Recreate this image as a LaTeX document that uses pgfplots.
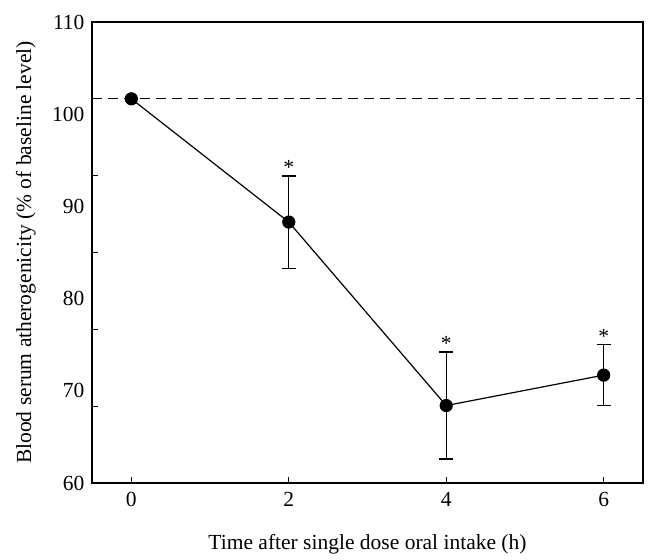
\documentclass[border=0pt]{standalone}
\usepackage{pgfplots}
\pgfplotsset{compat=1.18}
\usepackage{fontspec}
\setmainfont{Liberation Serif}

\begin{document}
\begin{tikzpicture}[font=\fontsize{21.5}{25}\selectfont]
\pgfplotsset{
  base/.style={
    scale only axis,
    width=551pt, height=461pt,
    xmin=-0.5, xmax=6.5,
    ymin=60, ymax=110,
  },
}
% main axis: the frame, the ticks and the data
\begin{axis}[
  base, name=main,
  axis line style={line width=1.2pt},
  xtick={0,2,4,6},
  % the inner y ticks sit off the labels in the original figure
  ytick={68.333,76.667,85,93.333,101.667},
  yticklabels={},
  tick pos=left,
  tick align=inside,
  major tick length=6pt,
  xtick style={draw=black, line width=1.1pt},
  ytick style={draw=black, line width=1.1pt},
  /pgf/number format/assume math mode=true,
  xticklabel style={yshift=-6pt},
  xlabel={Time after single dose oral intake (h)},
  ylabel={Blood serum atherogenicity (\% of baseline level)},
  every axis x label/.style={at={(axis description cs:0.5,0)}, anchor=center, yshift=-61pt},
  every axis y label/.style={at={(axis description cs:0,0.5)}, anchor=center, xshift=-66pt, rotate=90},
  clip=false,
]
% baseline level
\addplot[black, line width=1.1pt, dash pattern=on 10pt off 6pt] coordinates {(-0.5,101.667) (6.5,101.667)};

\addplot[black, line width=1.2pt, mark=*, mark size=6pt,
  error bars/.cd, y dir=both, y explicit,
  error bar style={line width=1.2pt},
  error mark options={rotate=90, mark size=7pt, line width=1.2pt}]
  coordinates {
    (0,101.667)
    (2,88.3) +- (0,5.0)
    (4,68.4) +- (0,5.8)
    (6,71.7) +- (0,3.3)
  };

\node[anchor=south, inner sep=1pt] at (axis cs:2,93.3) {*};
\node[anchor=south, inner sep=1pt] at (axis cs:4,74.2) {*};
\node[anchor=south, inner sep=1pt] at (axis cs:6,75.0) {*};

% x tick marks (inward), drawn by hand since they did not show
\draw[line width=1.1pt] (axis cs:0,60) -- ([yshift=6pt]axis cs:0,60);
\draw[line width=1.1pt] (axis cs:2,60) -- ([yshift=6pt]axis cs:2,60);
\draw[line width=1.1pt] (axis cs:4,60) -- ([yshift=6pt]axis cs:4,60);
\draw[line width=1.1pt] (axis cs:6,60) -- ([yshift=6pt]axis cs:6,60);
\end{axis}
% label axis: the y numbers only
\begin{axis}[
  base, at={(main.south west)}, anchor=south west,
  axis line style={draw=none},
  xtick=\empty,
  ytick={60,70,...,110},
  ytick pos=left,
  major tick length=0pt,
  tick style={draw=none},
  /pgf/number format/assume math mode=true,
  yticklabel style={xshift=-4pt},
]
\addplot[draw=none] coordinates {(0,60)};
\end{axis}
\path (main.south west) ++(-92pt,-76pt);
\path (main.north east) ++(14pt,22pt);
\end{tikzpicture}
\end{document}
